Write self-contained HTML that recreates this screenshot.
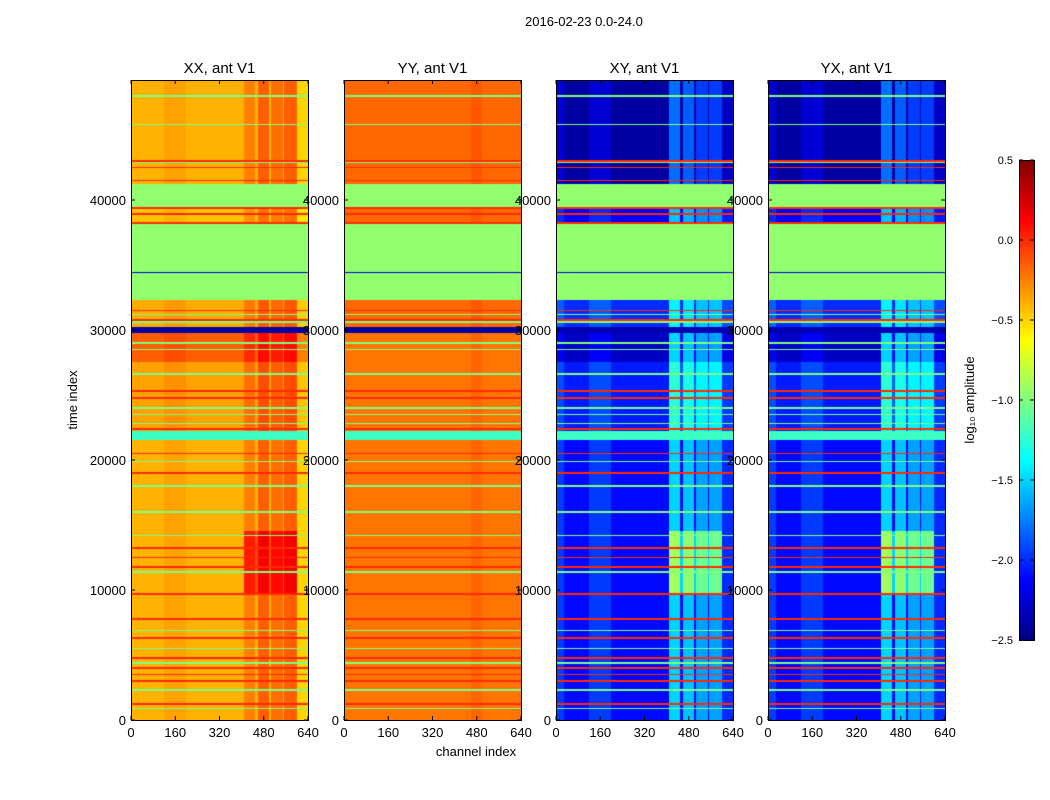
<!DOCTYPE html>
<html><head><meta charset="utf-8">
<style>
body{margin:0;background:#fff;font-family:"Liberation Sans",sans-serif;}
#wrap{position:relative;width:1050px;height:800px;overflow:hidden;background:#fff}
.t{position:absolute;font-size:13px;color:#000;white-space:nowrap}
canvas{position:absolute}
</style></head><body>
<div id="wrap">
<div class="t" style="left:525px;top:14px">2016-02-23 0.0-24.0</div>
<svg id="ax" width="1050" height="800" style="position:absolute;left:0;top:0"></svg>
</div>
<script>
// data
const panelTitles=["XX, ant V1","YY, ant V1","XY, ant V1","YX, ant V1"];
const xTicks=[0,160,320,480,640];
const yTicks=[0,10000,20000,30000,40000];
const cbTicks=[0.5,0.0,-0.5,-1.0,-1.5,-2.0,-2.5];
// time bands: [start,end,XX,YY,XY]
const bands=[[0,21500,-0.4,-0.22,-2.1],[21500,22200,-1.2,-1.2,-1.2],[22200,27500,-0.35,-0.22,-2.05],
[27500,29800,-0.15,-0.22,-2.3],[29800,30200,-2.4,-2.4,-2.35],[30200,32300,-0.38,-0.18,-2.0],
[32300,34380,-0.95,-0.95,-0.95],[34380,34460,-2.2,-2.2,-2.2],[34460,38150,-0.95,-0.95,-0.95],
[38150,39450,-0.45,-0.18,-2.15],[39450,41200,-0.95,-0.95,-0.95],[41200,49300,-0.4,-0.18,-2.4]];
// red lines (time) and green lines (time)
const redLines=[1200,3000,3500,4000,4800,6300,7800,9700,11800,12500,13200,19000,20500,22400,24800,25300,30800,31500,38200,38900,39400,41500,42500,43000];
const greenLines=[900,2300,4400,5500,6900,11400,14200,16000,18000,19900,22800,23500,24000,26600,28500,29000,30600,31200,42900,45800,48000];
// channel column boosts: [chStart,chEnd,XX,YY,XY]
const cols=[[0,30,0,0,0.15],[120,200,0.05,0,0.15],[408,448,0.15,0,0.6],[459,499,0.25,0.05,0.55],[506,549,0.2,0,0.45],[553,600,0.25,0,0.45],[600,640,-0.1,0,0.1]];
const vmin=-2.5,vmax=0.5;
function jet(v){let t=(v-vmin)/(vmax-vmin);t=Math.max(0,Math.min(1,t));
 const f=x=>Math.max(0,Math.min(1,x));
 return [f(1.5-Math.abs(4*t-3)),f(1.5-Math.abs(4*t-2)),f(1.5-Math.abs(4*t-1))].map(c=>Math.round(c*255));}
const PX=[131,344,556,768],PW=177,PT=80,PB=720,TMAX=49230;
const ys=t=>PB-t/TMAX*(PB-PT);
const xs=(i,c)=>PX[i]+c/640*PW;
const wrap=document.getElementById('wrap');
function val(i,t,c){
 const k=i===0?2:i===1?3:4;let v=-1;let green=false;
 for(const b of bands){if(t>=b[0]&&t<b[1]){v=b[k];green=Math.abs(b[2]+0.95)<0.01||b[2]<-1.1&&b[3]<-1.1;}}
 for(const r of redLines)if(Math.abs(t-r)<70)return 0.0;
 for(const g of greenLines)if(Math.abs(t-g)<60)return -1.0;
 if(green)return v;
 const ck=i===0?2:i===1?3:4;
 for(const cc of cols)if(c>=cc[0]&&c<cc[1])v+=cc[ck];
 if(i>=2&&t>22200&&t<30000&&c>408&&c<600)v+=0.2;
 if(i>=2&&t>9700&&t<14500&&c>408&&c<600)v+=0.6;
 if(i===0&&t>9700&&t<14500&&c>408&&c<600)v+=0.3;
 return v;}
for(let i=0;i<4;i++){
 const cv=document.createElement('canvas');cv.width=PW;cv.height=PB-PT;
 cv.style.left=PX[i]+'px';cv.style.top=PT+'px';
 
 
 const ctx=cv.getContext('2d');const img=ctx.createImageData(PW,PB-PT);
 for(let y=0;y<PB-PT;y++){const t=(PB-PT-y-0.5)/(PB-PT)*TMAX;
  for(let x=0;x<PW;x++){const c=(x+0.5)/PW*640;
   const col=jet(val(i,t,c));const p=(y*PW+x)*4;
   img.data[p]=col[0];img.data[p+1]=col[1];img.data[p+2]=col[2];img.data[p+3]=255;}}
 ctx.putImageData(img,0,0);wrap.insertBefore(cv,document.getElementById('ax'));}
// colorbar
const cb=document.createElement('canvas');cb.width=15;cb.height=480;cb.style.left='1019px';cb.style.top='160px';


const cctx=cb.getContext('2d');for(let y=0;y<480;y++){const c=jet(vmax-(y/480)*(vmax-vmin));cctx.fillStyle=`rgb(${c})`;cctx.fillRect(0,y,15,1);}
wrap.insertBefore(cb,document.getElementById('ax'));
const svg=document.getElementById('ax');const NS='http://www.w3.org/2000/svg';
function el(tag,attrs,name,text){const e=document.createElementNS(NS,tag);for(const k in attrs)e.setAttribute(k,attrs[k]);
 
 
 if(text!==undefined)e.textContent=text;svg.appendChild(e);return e;}
for(let i=0;i<4;i++){
 el('rect',{x:PX[i]+0.5,y:PT+0.5,width:PW,height:PB-PT,fill:'none',stroke:'#000'},'panel-frame');
 el('text',{x:PX[i]+PW/2,y:73,'text-anchor':'middle','font-size':15,'font-family':'Liberation Sans'},'panel-title',panelTitles[i]);
 for(const v of xTicks){const x=xs(i,v);
  el('line',{x1:x,x2:x,y1:PB,y2:PB-4,stroke:'#000'},'x-tick');
  el('line',{x1:x,x2:x,y1:PT,y2:PT+4,stroke:'#000'},'x-tick');
  el('text',{x:x,y:PB+17,'text-anchor':'middle','font-size':13,'font-family':'Liberation Sans'},'x-tick-label',v);}
 for(const v of yTicks){const y=ys(v);
  el('line',{x1:PX[i],x2:PX[i]+4,y1:y,y2:y,stroke:'#000'},'y-tick');
  el('line',{x1:PX[i]+PW,x2:PX[i]+PW-4,y1:y,y2:y,stroke:'#000'},'y-tick');
  el('text',{x:PX[i]-5,y:y+5,'text-anchor':'end','font-size':13,'font-family':'Liberation Sans'},'y-tick-label',v);}
}
el('text',{x:476,y:756,'text-anchor':'middle','font-size':13,'font-family':'Liberation Sans'},'x-axis-title','channel index');
el('text',{x:77,y:400,'text-anchor':'middle','font-size':13,'font-family':'Liberation Sans',transform:'rotate(-90 77 400)'},'y-axis-title','time index');
el('rect',{x:1019.5,y:160.5,width:15,height:480,fill:'none',stroke:'#000'},'colorbar-frame');
for(const v of cbTicks){const y=160+(vmax-v)/(vmax-vmin)*480;
 el('line',{x1:1030,x2:1034,y1:y,y2:y,stroke:'#000'},'colorbar-tick');
 el('line',{x1:1019,x2:1023,y1:y,y2:y,stroke:'#000'},'colorbar-tick');
 el('text',{x:1013,y:y+4,'text-anchor':'end','font-size':11,'font-family':'Liberation Sans'},'colorbar-tick-label',v.toFixed(1).replace('-','\u2212'));}
el('text',{x:974,y:400,'text-anchor':'middle','font-size':13,'font-family':'Liberation Sans',transform:'rotate(-90 974 400)'},'colorbar-title','log\u2081\u2080 amplitude');
</script>
</body></html>
